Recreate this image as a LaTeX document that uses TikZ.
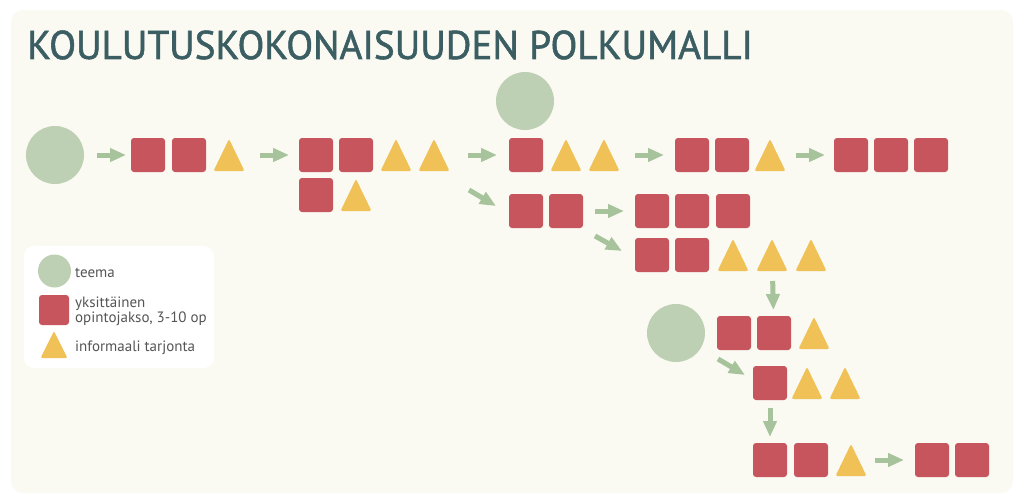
\documentclass[tikz,border=0pt]{standalone}
\usepackage{fontspec}
\setmainfont{PT Sans}
\newfontfamily\otsikkoFontti[FakeBold=1.4]{PT Sans}
\usetikzlibrary{positioning, arrows.meta}
\definecolor{taustaKerma}{RGB}{250,249,242}
\definecolor{otsikkoPetrooli}{RGB}{59,94,99}
\definecolor{jaksoPunainen}{RGB}{198,85,93}
\definecolor{tarjontaKeltainen}{RGB}{239,193,87}
\definecolor{teemaVihrea}{RGB}{189,208,179}
\definecolor{nuoliVihrea}{RGB}{166,195,155}
\definecolor{seliteHarmaa}{RGB}{85,85,85}
\tikzstyle{teemaPallo} = [circle, minimum size=58pt, inner sep=0, outer sep=0, fill=teemaVihrea]
\tikzstyle{jaksoNelio} = [rectangle, rounded corners=3pt, minimum size=34pt, inner sep=0, outer sep=0, fill=jaksoPunainen]
\tikzstyle{tarjontaKolmio} = [rectangle, minimum width=31pt, minimum height=32pt, inner sep=0, outer sep=0, path picture={\fill[tarjontaKeltainen, rounded corners=2pt] (path picture bounding box.south west) -- (path picture bounding box.north) -- (path picture bounding box.south east) -- cycle;}]
\tikzstyle{otsikkoTeksti} = [anchor=base west, inner sep=0, xscale=0.98, text=otsikkoPetrooli, font=\otsikkoFontti\fontsize{40pt}{40pt}\selectfont]
\tikzstyle{seliteLaatikko} = [rectangle, rounded corners=10pt, minimum width=190pt, minimum height=122pt, fill=white]
\tikzstyle{seliteTeksti} = [inner sep=0, text=seliteHarmaa, font=\fontsize{15pt}{13pt}\selectfont]
\tikzstyle{nuoli} = [line width=5pt, draw=nuoliVihrea, -{Triangle[length=16pt, width=13pt]}]

\begin{document}
\begin{tikzpicture}[x=1pt, y=-1pt, node distance=40pt]

	\useasboundingbox (0,0) rectangle (1024,503);
	\fill[white] (0,0) rectangle (1024,503);
	\fill[taustaKerma, rounded corners=12pt] (11,10) rectangle (1013,493);


	% Solmut
	\node (otsikko) [otsikkoTeksti] at (27,59) {KOULUTUSKOKONAISUUDEN POLKUMALLI};

	\node (teema1) [teemaPallo] at (55,155) {};
	\node (jakso1) [jaksoNelio] at (148,155) {};
	\node (jakso2) [jaksoNelio, right of=jakso1, xshift=1pt] {};
	\node (tarjonta1) [tarjontaKolmio, right of=jakso2] {};

	\node (jakso3) [jaksoNelio] at (316,155) {};
	\node (jakso4) [jaksoNelio, right of=jakso3] {};
	\node (tarjonta2) [tarjontaKolmio, right of=jakso4] {};
	\node (tarjonta3) [tarjontaKolmio, right of=tarjonta2, xshift=-2pt] {};
	\node (jakso5) [jaksoNelio, below of=jakso3] {};
	\node (tarjonta4) [tarjontaKolmio, right of=jakso5] {};

	\node (teema2) [teemaPallo] at (525,101) {};
	\node (jakso6) [jaksoNelio] at (526,155) {};
	\node (tarjonta5) [tarjontaKolmio, right of=jakso6] {};
	\node (tarjonta6) [tarjontaKolmio, right of=tarjonta5, xshift=-2pt] {};

	\node (jakso7) [jaksoNelio] at (692,155) {};
	\node (jakso8) [jaksoNelio, right of=jakso7] {};
	\node (tarjonta7) [tarjontaKolmio, right of=jakso8, xshift=-2pt] {};

	\node (jakso9) [jaksoNelio] at (851,155) {};
	\node (jakso10) [jaksoNelio, right of=jakso9] {};
	\node (jakso11) [jaksoNelio, right of=jakso10] {};

	\node (jakso12) [jaksoNelio] at (526,211) {};
	\node (jakso13) [jaksoNelio, right of=jakso12] {};

	\node (jakso14) [jaksoNelio] at (652,211) {};
	\node (jakso15) [jaksoNelio, right of=jakso14] {};
	\node (jakso16) [jaksoNelio, right of=jakso15, xshift=1pt] {};

	\node (jakso17) [jaksoNelio] at (652,255) {};
	\node (jakso18) [jaksoNelio, right of=jakso17] {};
	\node (tarjonta8) [tarjontaKolmio, right of=jakso18, xshift=1pt] {};
	\node (tarjonta9) [tarjontaKolmio, right of=tarjonta8, xshift=-1pt] {};
	\node (tarjonta10) [tarjontaKolmio, right of=tarjonta9, xshift=-1pt] {};

	\node (teema3) [teemaPallo] at (676,333) {};
	\node (jakso19) [jaksoNelio] at (734,333) {};
	\node (jakso20) [jaksoNelio, right of=jakso19] {};
	\node (tarjonta11) [tarjontaKolmio, right of=jakso20] {};

	\node (jakso21) [jaksoNelio] at (770,383) {};
	\node (tarjonta12) [tarjontaKolmio, right of=jakso21, xshift=-3pt] {};
	\node (tarjonta13) [tarjontaKolmio, right of=tarjonta12, xshift=-2pt] {};

	\node (jakso22) [jaksoNelio] at (770,460) {};
	\node (jakso23) [jaksoNelio, right of=jakso22, xshift=1pt] {};
	\node (tarjonta14) [tarjontaKolmio, right of=jakso23] {};
	\node (jakso24) [jaksoNelio] at (932,460) {};
	\node (jakso25) [jaksoNelio, right of=jakso24] {};


	%Selite
	\node (selite) [seliteLaatikko] at (119,307) {};
	\node (seliteTeema) [teemaPallo, minimum size=33pt] at (54.5,271) {};
	\node (seliteJakso) [jaksoNelio, minimum size=30pt] at (54,310) {};
	\node (seliteTarjonta) [tarjontaKolmio, minimum width=27pt, minimum height=27pt] at (54,344.5) {};
	\node (teemaTeksti) [seliteTeksti, anchor=base west] at (75,277) {teema};
	\node (jaksoTeksti) [seliteTeksti, anchor=west, align=left] at (75,311) {yksittäinen\\opintojakso, 3-10 op};
	\node (tarjontaTeksti) [seliteTeksti, anchor=base west] at (75,351) {informaali tarjonta};


	% vinojen nuolten päät
	\coordinate (vino1alku) at (469,190);
	\coordinate (vino1loppu) at (496,206);
	\coordinate (vino2alku) at (595,236);
	\coordinate (vino2loppu) at (622,251);
	\coordinate (vino3alku) at (718,359);
	\coordinate (vino3loppu) at (745,375);


	% Nuolet
	\draw [nuoli, shorten <=13pt, shorten >=5pt] (teema1) -- (jakso1);
	\draw [nuoli, shorten <=15.5pt, shorten >=10pt] (tarjonta1) -- (jakso3);
	\draw [nuoli, shorten <=18.5pt, shorten >=12pt] (tarjonta3) -- (jakso6);
	\draw [nuoli, shorten <=15.5pt, shorten >=11pt] (tarjonta6) -- (jakso7);
	\draw [nuoli, shorten <=10.5pt, shorten >=9pt] (tarjonta7) -- (jakso9);
	\draw [nuoli, shorten <=12pt, shorten >=11pt] (jakso13) -- (jakso14);
	\draw [nuoli, shorten <=8.5pt, shorten >=11pt] (tarjonta14) -- (jakso24);

	\draw [nuoli, shorten <=10pt, shorten >=6pt] (tarjonta9) -- (jakso20);
	\draw [nuoli, shorten <=8pt, shorten >=6pt] (jakso21) -- (jakso22);

	\draw [nuoli] (vino1alku) -- (vino1loppu);
	\draw [nuoli] (vino2alku) -- (vino2loppu);
	\draw [nuoli] (vino3alku) -- (vino3loppu);

\end{tikzpicture}
\end{document}
